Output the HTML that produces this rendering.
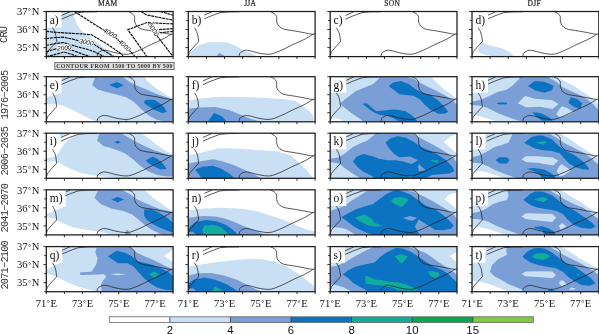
<!DOCTYPE html>
<html lang="en"><head><meta charset="utf-8"><title>Seasonal maps</title>
<style>html,body{margin:0;padding:0;background:#fff;}svg{display:block;}.se{font-family:"Liberation Serif",serif;}.sa{font-family:"Liberation Sans",sans-serif;}.mo{font-family:"Liberation Mono",monospace;}</style></head><body>
<svg width="599" height="334" viewBox="0 0 599 334">
<rect width="599" height="334" fill="#fff"/>
<g opacity="0.999">
<defs>
<clipPath id="cp"><rect x="0" y="0" width="126.8" height="45.1"/></clipPath>
<g id="bnd" fill="none" stroke="#222" stroke-width="0.75" stroke-linejoin="round" stroke-linecap="round"><polyline points="15.0,4.1 23.3,0.4"/><polyline points="15.0,7.8 22.8,4.4 31.8,1.1 39.8,0.4 50.3,0.3"/><polyline points="5.8,15.0 6.6,16.9 8.4,19.9 9.6,24.1 10.4,30.1 5.4,35.4 1.2,40.2 0.1,43.8"/><path d="M82.3,0.2C82.9,0.5 84.8,1.2 85.8,2.0C86.8,2.8 87.9,3.8 88.3,5.0C88.7,6.2 88.0,8.1 88.3,9.5C88.5,10.9 88.9,12.2 89.8,13.5C90.7,14.8 92.1,16.2 93.8,17.0C95.5,17.8 97.5,18.1 99.8,18.5C102.1,18.9 105.1,19.2 107.8,19.7C110.5,20.1 113.1,20.7 115.8,21.2C118.5,21.7 122.0,22.5 123.8,22.7C125.6,22.9 126.3,22.3 126.8,22.2"/><path d="M124.8,22.7C123.3,23.6 119.1,26.3 115.8,28.0C112.5,29.7 108.0,31.5 104.8,33.0C101.6,34.5 99.1,35.9 96.8,37.0C94.5,38.1 92.8,38.9 90.8,39.7C88.8,40.5 86.6,41.5 84.8,42.0C83.0,42.5 81.8,42.8 79.8,42.8C77.8,42.8 75.0,42.4 72.8,42.0C70.6,41.6 68.6,41.2 66.8,40.7C65.0,40.2 63.4,39.6 61.8,39.3C60.2,39.0 58.6,38.6 57.3,38.7C56.0,38.8 54.8,39.5 53.8,40.0C52.8,40.5 51.8,41.1 51.3,42.0C50.8,42.9 51.0,44.6 51.0,45.1"/></g>
<g id="frm" fill="none" stroke="#1a1a1a" stroke-width="1.25"><rect x="0" y="0" width="126.8" height="45.1"/><path d="M-2.9,0.00h2.9M-2.1,9.02h2.1M-2.9,18.04h2.9M-2.1,27.06h2.1M-2.9,36.08h2.9M-2.1,45.10h2.1M0.00,45.1v2.4M18.11,45.1v2.4M36.23,45.1v2.4M54.34,45.1v2.4M72.46,45.1v2.4M90.57,45.1v2.4M108.69,45.1v2.4M126.80,45.1v2.4" stroke-width="0.9"/></g>
</defs>
<text class="se" x="107.8" y="5.8" font-size="7.5" letter-spacing="0.25" stroke="#222" stroke-width="0.2" text-anchor="middle" fill="#222">MAM</text>
<text class="se" x="250.2" y="5.8" font-size="7.5" letter-spacing="0.25" stroke="#222" stroke-width="0.2" text-anchor="middle" fill="#222">JJA</text>
<text class="se" x="392.2" y="5.8" font-size="7.5" letter-spacing="0.25" stroke="#222" stroke-width="0.2" text-anchor="middle" fill="#222">SON</text>
<text class="se" x="534.2" y="5.8" font-size="7.5" letter-spacing="0.25" stroke="#222" stroke-width="0.2" text-anchor="middle" fill="#222">DJF</text>
<text class="mo" transform="translate(6.9,34.5) rotate(-90)" x="-8.5" font-size="10.3" textLength="17.0" lengthAdjust="spacing" fill="#3a3a3a">CRU</text>
<text class="mo" transform="translate(7.8,94.6) rotate(-90)" x="-24.7" font-size="10.3" textLength="49.4" lengthAdjust="spacing" fill="#3a3a3a">1976−2005</text>
<text class="mo" transform="translate(7.8,150.8) rotate(-90)" x="-24.7" font-size="10.3" textLength="49.4" lengthAdjust="spacing" fill="#3a3a3a">2006−2035</text>
<text class="mo" transform="translate(7.8,207.8) rotate(-90)" x="-24.7" font-size="10.3" textLength="49.4" lengthAdjust="spacing" fill="#3a3a3a">2041−2070</text>
<text class="mo" transform="translate(7.8,264.9) rotate(-90)" x="-24.7" font-size="10.3" textLength="49.4" lengthAdjust="spacing" fill="#3a3a3a">2071−2100</text>
<g transform="translate(46.3,11.5)"><g clip-path="url(#cp)"><polygon fill="#c9dff4" points="0.0,0.0 26.5,0.0 28.0,5.9 31.1,13.7 35.8,19.9 42.8,24.6 50.6,30.8 58.4,37.0 64.6,41.7 70.8,45.1 0.0,45.1"/><use href="#bnd"/><g fill="none" stroke="#111" stroke-width="1.15" stroke-dasharray="3 0.7"><polyline points="0.0,19.9 10.2,20.9 26.4,21.9 36.0,22.4 45.6,23.3 47.7,24.7 61.7,33.1 74.1,41.7 77.2,45.1"/><polyline points="0.0,27.1 7.3,26.2 16.9,25.7 26.4,27.6 33.1,29.5 48.2,33.1 56.8,38.6 64.6,43.3 67.7,45.1"/><polyline points="0.0,33.8 7.3,32.4 16.9,31.0 21.6,32.4 31.2,35.3 40.8,37.7 47.7,40.1 57.7,45.1"/><polyline points="0.0,40.5 3.4,39.1 10.2,37.2 25.5,38.6 36.0,42.5 43.7,45.1"/><polyline points="0.0,45.1 7.3,43.4 17.8,40.5 25.5,42.9 31.2,45.1"/><polyline points="28.0,0.0 55.9,17.7 63.7,21.6 72.7,29.1 78.3,33.8 83.7,39.6 88.9,45.1"/><polyline points="94.9,0.0 99.7,3.3 109.3,5.2 118.9,7.1 126.8,8.6"/><polyline points="114.1,0.0 126.8,3.8"/><polyline points="126.8,12.4 106.4,11.4 100.7,11.0 81.5,18.2 100.6,45.1"/><polyline points="102.5,11.5 111.7,25.6 126.8,45.1"/><polyline points="126.8,17.2 111.2,18.2"/><polyline points="126.8,19.9 113.5,21.3"/></g><g transform="translate(18.0,36.2) rotate(-4)"><rect x="-7.2" y="-2.9" width="14.4" height="5.8" fill="#fff"/><text class="sa" x="0" y="2.3" font-size="6.4" font-style="italic" text-anchor="middle" fill="#000">2000</text></g><g transform="translate(40.2,30.6) rotate(12)"><rect x="-7.2" y="-2.9" width="14.4" height="5.8" fill="#fff"/><text class="sa" x="0" y="2.3" font-size="6.4" font-style="italic" text-anchor="middle" fill="#000">3000</text></g><g transform="translate(63.7,21.6) rotate(30)"><rect x="-7.2" y="-2.9" width="14.4" height="5.8" fill="#fff"/><text class="sa" x="0" y="2.3" font-size="6.4" font-style="italic" text-anchor="middle" fill="#000">4000</text></g><g transform="translate(78.3,33.8) rotate(45)"><rect x="-7.2" y="-2.9" width="14.4" height="5.8" fill="#fff"/><text class="sa" x="0" y="2.3" font-size="6.4" font-style="italic" text-anchor="middle" fill="#000">4000</text></g><g transform="translate(107.4,17.9) rotate(58)"><rect x="-7.2" y="-2.9" width="14.4" height="5.8" fill="#fff"/><text class="sa" x="0" y="2.3" font-size="6.4" font-style="italic" text-anchor="middle" fill="#000">5000</text></g><rect x="0" y="0" width="15.3" height="16.1" fill="#fff"/></g><text class="se" x="3.4" y="12.2" font-size="11.5" fill="#111">a)</text><use href="#frm"/></g>
<text class="se" x="39.4" y="15.2" font-size="10.6" text-anchor="end" fill="#111">37<tspan font-size="7.6" dx="0.5" dy="-0.8">°</tspan><tspan dx="0.6" dy="0.8">N</tspan></text>
<text class="se" x="39.4" y="33.2" font-size="10.6" text-anchor="end" fill="#111">36<tspan font-size="7.6" dx="0.5" dy="-0.8">°</tspan><tspan dx="0.6" dy="0.8">N</tspan></text>
<text class="se" x="39.4" y="51.3" font-size="10.6" text-anchor="end" fill="#111">35<tspan font-size="7.6" dx="0.5" dy="-0.8">°</tspan><tspan dx="0.6" dy="0.8">N</tspan></text>
<g transform="translate(188.3,11.5)"><g clip-path="url(#cp)"><polygon fill="#c9dff4" points="0.0,45.2 3.0,38.7 11.7,33.3 20.4,30.7 38.8,30.7 47.5,34.4 55.1,38.7 63.8,42.0 68.1,45.2"/><polygon fill="#7a9fd6" points="28.0,45.2 30.8,41.6 37.8,45.2"/><use href="#bnd"/><rect x="0" y="0" width="16.0" height="16.1" fill="#fff"/></g><text class="se" x="3.4" y="12.2" font-size="11.5" fill="#111">b)</text><use href="#frm"/></g>
<g transform="translate(330.2,11.5)"><g clip-path="url(#cp)"><use href="#bnd"/><rect x="0" y="0" width="15.3" height="16.1" fill="#fff"/></g><text class="se" x="3.4" y="12.2" font-size="11.5" fill="#111">c)</text><use href="#frm"/></g>
<g transform="translate(472.0,11.5)"><g clip-path="url(#cp)"><polygon fill="#c9dff4" points="7.3,41.3 6.2,37.1 10.5,30.7 17.9,33.9 30.8,37.1 38.2,41.3 42.5,45.2 20.0,44.5 13.7,43.5"/><polygon fill="#c9dff4" points="0.0,19.0 1.2,22.0 0.0,25.0"/><use href="#bnd"/><rect x="0" y="0" width="16.0" height="16.1" fill="#fff"/></g><text class="se" x="3.4" y="12.2" font-size="11.5" fill="#111">d)</text><use href="#frm"/></g>
<g transform="translate(46.3,76.7)"><g clip-path="url(#cp)"><polygon fill="#c9dff4" points="0.0,20.6 5.5,19.1 14.8,16.4 14.8,0.0 97.8,0.0 101.7,5.1 109.5,11.3 118.8,17.5 126.8,22.2 126.8,45.1 50.6,45.1 45.9,43.2 38.1,39.3 28.8,34.6 17.9,29.2 10.1,27.6 0.0,27.9"/><polygon fill="#7a9fd6" points="49.0,0.0 45.9,8.2 51.4,12.8 59.9,15.2 69.0,17.5 79.9,20.6 87.7,25.3 95.5,33.1 103.2,39.3 111.0,43.2 118.8,44.5 126.8,44.5 126.8,23.0 120.4,20.6 111.0,17.5 100.1,12.8 90.8,9.0 83.0,5.1 76.0,0.0"/><polygon fill="#7a9fd6" points="79.9,43.2 78.4,45.1 82.3,45.1"/><polygon fill="#0b73c2" points="62.8,8.2 70.6,5.4 77.6,8.5 70.6,11.6"/><polygon fill="#0b73c2" points="97.8,24.5 100.1,23.0 107.9,23.0 114.1,26.8 118.0,30.7 120.4,35.4 115.7,36.2 107.9,33.1 101.7,29.2 98.3,26.8"/><use href="#bnd"/><rect x="0" y="0" width="15.3" height="16.1" fill="#fff"/></g><text class="se" x="3.4" y="12.2" font-size="11.5" fill="#111">e)</text><use href="#frm"/></g>
<text class="se" x="39.4" y="80.4" font-size="10.6" text-anchor="end" fill="#111">37<tspan font-size="7.6" dx="0.5" dy="-0.8">°</tspan><tspan dx="0.6" dy="0.8">N</tspan></text>
<text class="se" x="39.4" y="98.4" font-size="10.6" text-anchor="end" fill="#111">36<tspan font-size="7.6" dx="0.5" dy="-0.8">°</tspan><tspan dx="0.6" dy="0.8">N</tspan></text>
<text class="se" x="39.4" y="116.5" font-size="10.6" text-anchor="end" fill="#111">35<tspan font-size="7.6" dx="0.5" dy="-0.8">°</tspan><tspan dx="0.6" dy="0.8">N</tspan></text>
<g transform="translate(188.3,76.7)"><g clip-path="url(#cp)"><polygon fill="#c9dff4" points="0.0,23.9 11.7,21.7 31.3,20.0 53.0,20.4 74.7,21.1 96.4,22.6 107.2,24.3 113.7,28.7 120.2,34.1 124.6,38.5 125.7,45.1 0.0,45.1"/><polygon fill="#7a9fd6" points="0.0,31.9 11.7,30.9 26.9,30.4 39.9,33.0 50.8,37.4 61.6,41.7 72.5,45.1 0.0,45.1"/><polygon fill="#0b73c2" points="19.3,45.1 25.8,36.3 33.4,39.5 38.8,45.1"/><use href="#bnd"/><rect x="0" y="0" width="14.1" height="16.1" fill="#fff"/></g><text class="se" x="3.4" y="12.2" font-size="11.5" fill="#111">f)</text><use href="#frm"/></g>
<g transform="translate(330.2,76.7)"><g clip-path="url(#cp)"><polygon fill="#c9dff4" points="0.0,0.0 101.0,0.0 106.5,5.8 114.2,12.8 122.0,18.3 126.8,22.2 126.8,45.1 0.0,45.1"/><polygon fill="#ffffff" points="0.0,42.0 7.0,41.6 11.8,43.2 10.5,45.1 0.0,45.1"/><polygon fill="#7a9fd6" points="9.5,27.1 16.5,21.4 25.8,14.4 35.1,10.5 42.9,7.4 50.7,0.0 75.4,0.0 83.1,1.9 90.9,6.6 98.7,10.5 106.5,14.4 114.2,18.3 122.0,23.0 126.8,28.4 126.8,45.1 33.6,45.1 28.9,41.6 21.1,36.2 14.9,31.5"/><polygon fill="#0b73c2" points="58.5,9.3 62.9,5.8 70.7,4.3 78.5,7.4 84.7,12.1 92.5,16.0 100.2,18.3 108.0,23.7 114.2,30.0 118.1,35.4 114.2,37.0 108.0,37.0 100.2,33.1 94.0,27.6 89.3,22.2 83.1,19.1 75.4,18.3 69.1,17.5 62.9,12.8"/><polygon fill="#0b73c2" points="32.0,27.0 36.7,26.5 41.4,30.7 46.0,34.6 53.8,33.8 63.1,32.7 67.6,33.1 75.4,34.6 81.6,38.5 86.2,43.2 87.0,45.1 70.0,45.1 67.8,44.0 63.1,41.6 56.9,39.3 49.1,38.0 42.9,35.4 36.7,30.7"/><use href="#bnd"/><rect x="0" y="0" width="16.0" height="16.1" fill="#fff"/></g><text class="se" x="3.4" y="12.2" font-size="11.5" fill="#111">g)</text><use href="#frm"/></g>
<g transform="translate(472.0,76.7)"><g clip-path="url(#cp)"><polygon fill="#c9dff4" points="0.0,0.0 83.9,0.0 92.5,4.3 101.8,9.0 111.1,15.2 118.9,20.6 126.8,27.6 126.8,45.1 0.0,45.1"/><polygon fill="#ffffff" points="0.0,38.0 7.0,39.3 14.8,41.6 22.6,44.0 25.7,45.1 0.0,45.1"/><polygon fill="#7a9fd6" points="0.0,25.0 8.6,23.0 17.9,19.1 25.7,15.2 35.0,12.8 41.2,8.2 45.9,3.5 49.0,0.0 75.4,0.0 83.1,4.3 90.9,10.5 98.7,14.4 108.0,18.3 115.8,23.0 122.0,28.4 126.8,33.8 126.8,45.1 50.6,45.1 44.4,43.2 35.0,40.1 25.7,36.2 17.9,32.3 10.1,29.2 0.0,28.4"/><polygon fill="#c9dff4" points="45.8,26.6 53.0,19.4 63.2,22.0 80.5,23.5 86.6,27.4 80.5,32.4 68.2,30.1 54.0,30.6"/><polygon fill="#c9dff4" points="89.8,29.8 94.0,30.9 101.8,35.4 95.6,38.5 87.8,40.8 84.3,37.7 86.6,33.3"/><polygon fill="#0b73c2" points="24.9,26.5 28.8,25.6 35.0,26.1 35.0,27.6 28.8,27.9 24.9,27.2"/><polygon fill="#0b73c2" points="56.0,9.3 62.9,4.3 72.3,5.1 81.6,9.0 80.0,13.6 72.3,16.0 62.9,13.6"/><polygon fill="#0b73c2" points="98.7,20.6 104.9,22.2 110.4,26.8 108.0,32.3 101.8,30.0 96.4,26.1"/><polygon fill="#0b73c2" points="60.1,35.5 68.6,36.2 76.6,40.4 81.0,44.0 70.0,44.0 65.5,40.8 61.4,37.0"/><use href="#bnd"/><rect x="0" y="0" width="16.0" height="16.1" fill="#fff"/></g><text class="se" x="3.4" y="12.2" font-size="11.5" fill="#111">h)</text><use href="#frm"/></g>
<g transform="translate(46.3,133.2)"><g clip-path="url(#cp)"><polygon fill="#c9dff4" points="10.0,0.0 10.0,5.5 13.2,4.1 17.7,2.3 22.2,0.0"/><polygon fill="#c9dff4" points="0.0,24.7 7.0,24.0 10.0,22.9 13.2,18.0 16.3,13.5 19.0,9.5 23.0,5.9 29.3,2.3 35.6,0.0 95.5,0.0 101.7,4.5 109.5,10.7 117.2,16.2 126.8,21.6 126.8,45.1 70.3,45.1 63.8,44.0 48.6,42.3 35.6,40.1 26.9,36.9 18.2,32.6 9.5,28.2 0.0,28.2"/><polygon fill="#7a9fd6" points="53.0,0.0 50.8,7.6 57.3,13.0 62.0,14.0 69.0,16.2 78.4,20.1 86.1,25.5 93.9,32.5 101.7,38.0 111.0,41.8 120.4,43.4 126.8,43.4 126.8,23.2 117.2,20.1 107.9,17.0 98.6,13.1 89.2,8.4 81.5,3.7 74.5,0.0"/><polygon fill="#0b73c2" points="68.1,9.1 71.4,7.6 74.7,9.1 71.4,10.6"/><polygon fill="#0b73c2" points="99.4,27.1 106.4,23.2 111.0,25.5 116.5,30.2 120.4,35.6 114.1,36.4 107.9,33.3 102.5,30.2"/><use href="#bnd"/><rect x="0" y="0" width="13.4" height="16.1" fill="#fff"/></g><text class="se" x="3.4" y="12.2" font-size="11.5" fill="#111">i)</text><use href="#frm"/></g>
<text class="se" x="39.4" y="136.9" font-size="10.6" text-anchor="end" fill="#111">37<tspan font-size="7.6" dx="0.5" dy="-0.8">°</tspan><tspan dx="0.6" dy="0.8">N</tspan></text>
<text class="se" x="39.4" y="154.9" font-size="10.6" text-anchor="end" fill="#111">36<tspan font-size="7.6" dx="0.5" dy="-0.8">°</tspan><tspan dx="0.6" dy="0.8">N</tspan></text>
<text class="se" x="39.4" y="173.0" font-size="10.6" text-anchor="end" fill="#111">35<tspan font-size="7.6" dx="0.5" dy="-0.8">°</tspan><tspan dx="0.6" dy="0.8">N</tspan></text>
<g transform="translate(188.3,133.2)"><g clip-path="url(#cp)"><polygon fill="#c9dff4" points="0.0,21.7 10.7,20.1 21.6,17.3 30.3,15.1 41.1,15.1 62.8,16.2 88.8,18.4 101.9,21.7 110.5,29.3 119.2,37.9 124.7,45.1 0.0,45.1"/><polygon fill="#7a9fd6" points="0.0,30.3 10.7,28.2 24.8,26.0 34.6,28.2 45.4,31.9 56.3,36.8 67.1,41.8 72.6,45.1 0.0,45.1"/><polygon fill="#0b73c2" points="6.8,36.2 14.0,33.6 24.8,32.5 33.5,35.8 42.2,41.2 46.5,45.1 13.3,45.1"/><use href="#bnd"/><rect x="0" y="0" width="13.4" height="16.1" fill="#fff"/></g><text class="se" x="3.4" y="12.2" font-size="11.5" fill="#111">j)</text><use href="#frm"/></g>
<g transform="translate(330.2,133.2)"><g clip-path="url(#cp)"><polygon fill="#c9dff4" points="0.0,0.0 126.8,0.0 126.8,45.1 0.0,45.1"/><polygon fill="#ffffff" points="113.5,8.9 120.5,3.0 126.8,1.1 126.8,20.0 123.6,17.7 118.9,13.8"/><polygon fill="#7a9fd6" points="0.0,25.5 8.7,24.0 14.9,20.1 22.7,13.8 30.5,10.0 36.7,7.6 41.4,3.7 46.0,0.0 76.9,0.0 83.1,1.4 90.9,5.3 100.2,10.0 109.6,15.4 117.3,20.1 123.6,24.7 126.8,30.2 126.8,45.1 30.5,45.1 27.4,43.4 21.1,39.5 13.4,34.1 8.7,30.2 0.0,28.9"/><polygon fill="#0b73c2" points="55.3,9.6 60.0,5.3 67.6,3.0 75.4,4.5 83.1,8.4 90.9,13.8 98.7,17.0 108.0,21.6 115.8,27.1 122.0,33.3 124.3,37.9 118.9,40.3 111.1,41.1 101.8,41.8 97.1,44.2 95.6,45.1 44.5,45.1 41.4,42.6 33.6,38.7 27.4,34.1 22.7,28.2 26.6,23.2 33.6,20.8 42.9,23.2 49.1,25.5 56.9,27.1 66.0,27.1 73.8,28.6 81.6,30.9 87.8,27.1 80.0,23.2 69.1,24.0 63.1,20.1 59.2,15.4"/><polygon fill="#7a9fd6" points="88.6,30.9 95.6,37.0 88.6,38.0 87.8,34.0"/><polygon fill="#10ad9f" points="99.5,27.1 108.8,27.1 106.5,29.7"/><polygon fill="#10ad9f" points="76.9,43.4 82.4,42.6 80.0,45.1"/><polygon fill="#10ad9f" points="70.0,9.0 71.2,8.6 71.4,9.6 70.2,9.9"/><use href="#bnd"/><rect x="0" y="0" width="16.0" height="16.1" fill="#fff"/></g><text class="se" x="3.4" y="12.2" font-size="11.5" fill="#111">k)</text><use href="#frm"/></g>
<g transform="translate(472.0,133.2)"><g clip-path="url(#cp)"><polygon fill="#c9dff4" points="0.0,0.0 87.8,0.0 95.6,4.5 104.9,10.7 114.2,17.0 122.0,22.4 126.8,26.3 126.8,45.1 0.0,45.1"/><polygon fill="#ffffff" points="0.0,37.2 8.6,37.9 16.4,39.5 25.7,42.6 31.9,45.1 0.0,45.1"/><polygon fill="#7a9fd6" points="0.0,24.0 7.0,22.4 14.8,18.5 22.6,13.8 30.4,11.5 36.6,9.2 38.9,4.5 40.5,0.0 76.9,0.0 84.7,4.5 92.5,10.0 101.8,14.6 111.1,19.3 118.9,24.7 126.8,31.7 126.8,45.1 45.9,45.1 42.8,44.2 33.5,41.1 24.1,37.2 16.4,33.3 8.6,30.2 0.0,29.4"/><polygon fill="#c9dff4" points="49.6,26.3 53.9,23.1 66.0,23.0 80.4,24.2 86.4,27.3 81.4,32.2 72.3,30.8 66.0,29.6 54.0,28.9"/><polygon fill="#c9dff4" points="89.4,30.9 95.6,34.8 98.7,37.2 92.5,41.8 87.8,43.4 84.7,37.9 87.0,33.3"/><polygon fill="#0b73c2" points="23.4,27.1 27.2,24.0 35.0,24.0 37.4,27.1 35.0,30.2 28.0,30.2"/><polygon fill="#0b73c2" points="52.1,9.5 59.9,3.7 66.0,2.3 70.7,2.2 80.0,6.1 86.2,12.3 94.0,17.7 101.8,21.6 109.6,27.1 115.8,33.3 117.4,36.4 111.1,36.4 103.4,34.1 97.1,30.2 92.5,25.5 87.8,20.1 80.0,17.7 70.7,17.0 62.9,15.4 59.9,13.8"/><polygon fill="#0b73c2" points="54.5,35.6 61.5,34.8 72.3,36.4 78.5,39.5 83.1,43.4 83.9,45.1 70.0,45.1 67.7,41.5 61.5,37.9"/><polygon fill="#10ad9f" points="63.7,9.2 72.3,7.9 74.6,8.9 71.5,11.5"/><use href="#bnd"/><rect x="0" y="0" width="13.4" height="16.1" fill="#fff"/></g><text class="se" x="3.4" y="12.2" font-size="11.5" fill="#111">l)</text><use href="#frm"/></g>
<g transform="translate(46.3,189.8)"><g clip-path="url(#cp)"><polygon fill="#c9dff4" points="0.0,24.4 7.4,21.2 19.3,16.8 19.3,0.0 97.8,0.0 102.0,3.4 106.4,7.8 114.1,13.2 121.9,18.7 126.8,21.8 126.8,45.1 68.1,45.1 61.6,44.0 50.8,41.8 37.8,39.6 26.9,37.4 18.2,34.2 9.5,29.8 0.0,26.6"/><polygon fill="#7a9fd6" points="51.9,0.0 48.2,8.1 55.1,14.6 66.0,19.0 76.8,21.2 85.5,24.4 92.0,29.8 98.5,35.3 105.0,39.6 113.7,44.0 116.5,45.1 126.8,45.1 126.8,22.8 121.9,21.0 114.1,19.5 106.4,16.4 97.0,12.5 89.2,8.6 83.0,4.0 75.3,0.0"/><polygon fill="#7a9fd6" points="77.9,45.1 80.7,39.6 85.5,45.1"/><polygon fill="#0b73c2" points="64.9,9.7 71.4,7.1 77.9,9.7 71.4,12.5"/><polygon fill="#0b73c2" points="97.8,19.5 104.8,19.5 112.6,22.6 118.8,26.5 125.0,31.2 126.8,33.5 126.8,42.8 121.9,41.3 114.1,38.2 106.4,34.3 100.1,29.6 97.8,25.7"/><use href="#bnd"/><rect x="0" y="0" width="19.2" height="16.1" fill="#fff"/></g><text class="se" x="3.4" y="12.2" font-size="11.5" fill="#111">m)</text><use href="#frm"/></g>
<text class="se" x="39.4" y="193.5" font-size="10.6" text-anchor="end" fill="#111">37<tspan font-size="7.6" dx="0.5" dy="-0.8">°</tspan><tspan dx="0.6" dy="0.8">N</tspan></text>
<text class="se" x="39.4" y="211.5" font-size="10.6" text-anchor="end" fill="#111">36<tspan font-size="7.6" dx="0.5" dy="-0.8">°</tspan><tspan dx="0.6" dy="0.8">N</tspan></text>
<text class="se" x="39.4" y="229.6" font-size="10.6" text-anchor="end" fill="#111">35<tspan font-size="7.6" dx="0.5" dy="-0.8">°</tspan><tspan dx="0.6" dy="0.8">N</tspan></text>
<g transform="translate(188.3,189.8)"><g clip-path="url(#cp)"><polygon fill="#c9dff4" points="0.0,20.7 11.7,19.0 33.4,17.9 53.0,19.0 68.1,21.2 81.2,25.5 94.2,29.8 107.2,35.3 118.1,39.6 126.8,41.8 126.8,45.1 0.0,45.1"/><polygon fill="#7a9fd6" points="0.0,28.2 7.0,27.0 16.4,26.1 27.3,26.8 36.6,28.7 46.0,32.3 56.5,36.8 67.5,41.2 77.0,45.1 0.0,45.1"/><polygon fill="#0b73c2" points="0.0,40.7 2.0,36.4 7.4,32.0 18.2,30.3 29.1,31.6 37.8,35.3 45.4,40.7 49.7,45.1 8.0,45.1 5.0,42.0 0.0,42.0"/><polygon fill="#10ad9f" points="15.2,45.1 13.9,39.6 16.1,36.2 24.7,35.0 32.0,37.0 37.6,41.4 40.0,45.1"/><use href="#bnd"/><rect x="0" y="0" width="16.0" height="16.1" fill="#fff"/></g><text class="se" x="3.4" y="12.2" font-size="11.5" fill="#111">n)</text><use href="#frm"/></g>
<g transform="translate(330.2,189.8)"><g clip-path="url(#cp)"><polygon fill="#c9dff4" points="0.0,0.0 126.8,0.0 126.8,45.1 0.0,45.1"/><polygon fill="#ffffff" points="114.2,9.7 118.9,4.8 126.8,2.4 126.8,19.5 120.5,14.1"/><polygon fill="#7a9fd6" points="0.0,21.1 7.1,18.8 14.9,15.6 21.1,11.0 27.4,7.1 33.6,3.2 38.2,0.0 75.4,0.0 84.7,2.4 92.5,6.3 101.8,11.0 111.1,16.4 118.9,21.1 124.3,25.8 126.8,29.6 126.8,45.1 25.0,45.1 21.1,42.1 14.9,39.0 7.1,37.4 0.0,38.2"/><polygon fill="#0b73c2" points="11.0,27.5 18.0,23.4 25.8,19.5 35.1,16.4 42.9,14.1 49.1,9.4 55.3,4.8 63.1,0.9 66.2,0.0 72.3,1.6 80.0,4.8 87.8,10.2 95.6,15.6 104.9,19.5 112.7,25.0 118.9,30.4 123.6,35.9 120.5,39.0 112.7,40.5 104.9,40.1 88.6,29.6 84.7,36.6 87.8,42.1 89.3,45.1 42.9,45.1 36.7,42.9 28.9,39.7 22.7,35.9 16.5,31.2"/><polygon fill="#7a9fd6" points="72.3,28.1 80.0,26.1 87.0,28.1 81.6,31.2"/><polygon fill="#10ad9f" points="24.6,27.6 34.6,24.6 40.8,28.5 44.2,33.0 52.6,36.0 45.0,36.9 38.2,35.6 30.0,31.6"/><polygon fill="#10ad9f" points="60.8,10.2 64.7,7.9 69.1,7.1 75.4,7.9 78.5,10.2 71.5,17.2 66.0,14.9 63.1,13.3"/><use href="#bnd"/><rect x="0" y="0" width="16.0" height="16.1" fill="#fff"/></g><text class="se" x="3.4" y="12.2" font-size="11.5" fill="#111">o)</text><use href="#frm"/></g>
<g transform="translate(472.0,189.8)"><g clip-path="url(#cp)"><polygon fill="#c9dff4" points="0.0,0.0 87.8,0.0 97.1,5.5 106.5,11.0 115.8,17.2 123.6,21.9 126.8,23.4 126.8,45.1 0.0,45.1"/><polygon fill="#ffffff" points="0.0,36.6 8.6,37.4 17.9,39.7 27.2,42.9 33.5,45.1 0.0,45.1"/><polygon fill="#7a9fd6" points="0.0,23.4 7.0,21.9 13.3,19.5 21.0,14.1 28.8,11.8 35.0,10.2 36.6,5.5 35.0,0.0 76.9,0.0 84.7,4.8 92.5,9.4 101.8,14.1 111.1,18.0 118.9,23.4 126.8,29.6 126.8,45.1 49.0,45.1 42.8,42.9 33.5,39.7 24.1,35.9 16.4,32.0 8.6,29.6 0.0,28.9"/><polygon fill="#c9dff4" points="49.4,26.7 53.9,23.4 66.0,23.6 80.2,24.1 84.3,27.8 80.2,32.2 66.0,30.6 53.9,29.3"/><polygon fill="#c9dff4" points="86.7,36.5 90.0,33.2 94.4,36.5 88.9,39.9"/><polygon fill="#0b73c2" points="51.4,9.9 58.4,4.0 63.0,1.6 70.7,1.6 80.0,5.5 87.8,11.8 95.6,17.2 103.4,21.1 111.1,26.5 118.9,32.0 123.6,36.6 118.9,39.0 109.6,38.2 101.8,35.1 95.6,29.6 90.9,24.2 84.7,21.1 75.4,19.5 66.0,18.0 60.0,16.0 56.8,14.1"/><polygon fill="#0b73c2" points="61.6,37.1 70.3,36.5 76.9,38.6 82.4,41.9 83.5,45.1 72.5,45.1 70.3,40.8 64.6,39.0"/><polygon fill="#10ad9f" points="61.8,9.6 70.7,7.1 76.1,9.4 71.5,12.5"/><use href="#bnd"/><rect x="0" y="0" width="16.0" height="16.1" fill="#fff"/></g><text class="se" x="3.4" y="12.2" font-size="11.5" fill="#111">p)</text><use href="#frm"/></g>
<g transform="translate(46.3,246.6)"><g clip-path="url(#cp)"><polygon fill="#c9dff4" points="0.0,23.4 7.4,19.1 15.0,15.8 15.0,0.0 126.8,0.0 126.8,45.1 50.8,45.1 42.1,43.0 31.3,39.7 20.4,35.4 9.5,29.9 0.0,26.7"/><polygon fill="#ffffff" points="118.0,9.5 126.8,2.8 126.8,16.0"/><polygon fill="#7a9fd6" points="50.6,0.0 49.0,5.8 51.4,12.0 49.8,18.2 45.1,25.2 33.5,26.0 34.2,28.3 45.4,28.2 57.7,27.6 60.1,29.9 56.9,33.8 54.6,38.2 55.4,45.1 126.8,45.1 126.8,22.9 121.6,20.6 113.8,16.7 106.0,12.8 98.2,9.7 90.4,5.8 81.9,0.0"/><polygon fill="#c9dff4" points="63.9,27.7 71.7,27.0 80.3,27.7 71.7,28.7"/><polygon fill="#0b73c2" points="61.6,9.7 70.2,4.2 78.0,5.8 85.8,9.7 90.4,14.3 96.7,15.9 106.0,18.2 113.8,21.3 121.6,25.2 126.8,29.3 126.8,44.0 118.5,43.1 110.7,40.8 102.9,36.1 96.7,30.7 92.0,25.2 87.3,19.8 81.1,16.7 71.7,16.7 67.1,13.6"/><polygon fill="#10ad9f" points="102.9,27.6 107.6,24.9 113.0,27.6 107.6,31.0"/><use href="#bnd"/><rect x="0" y="0" width="16.0" height="16.1" fill="#fff"/></g><text class="se" x="3.4" y="12.2" font-size="11.5" fill="#111">q)</text><use href="#frm"/></g>
<text class="se" x="39.4" y="250.3" font-size="10.6" text-anchor="end" fill="#111">37<tspan font-size="7.6" dx="0.5" dy="-0.8">°</tspan><tspan dx="0.6" dy="0.8">N</tspan></text>
<text class="se" x="39.4" y="268.3" font-size="10.6" text-anchor="end" fill="#111">36<tspan font-size="7.6" dx="0.5" dy="-0.8">°</tspan><tspan dx="0.6" dy="0.8">N</tspan></text>
<text class="se" x="39.4" y="286.4" font-size="10.6" text-anchor="end" fill="#111">35<tspan font-size="7.6" dx="0.5" dy="-0.8">°</tspan><tspan dx="0.6" dy="0.8">N</tspan></text>
<g transform="translate(188.3,246.6)"><g clip-path="url(#cp)"><polygon fill="#c9dff4" points="0.0,20.2 11.7,18.0 31.3,15.2 53.0,13.0 70.3,12.2 85.5,14.8 98.5,20.2 109.4,26.7 118.1,33.2 125.7,39.7 126.8,45.1 0.0,45.1"/><polygon fill="#7a9fd6" points="0.0,28.9 9.5,26.7 22.6,26.3 35.6,28.9 48.6,33.2 59.5,38.6 68.1,43.0 73.6,45.1 0.0,45.1"/><polygon fill="#0b73c2" points="0.0,37.5 5.2,33.2 16.1,31.0 26.9,33.2 37.8,37.5 45.4,41.9 49.7,45.1 8.5,45.1 5.2,41.9 0.0,41.9"/><polygon fill="#10ad9f" points="23.2,45.1 26.9,40.2 32.2,43.0 36.0,45.1"/><use href="#bnd"/><rect x="0" y="0" width="14.1" height="16.1" fill="#fff"/></g><text class="se" x="3.4" y="12.2" font-size="11.5" fill="#111">r)</text><use href="#frm"/></g>
<g transform="translate(330.2,246.6)"><g clip-path="url(#cp)"><polygon fill="#c9dff4" points="0.0,0.0 126.8,0.0 126.8,45.1 0.0,45.1"/><polygon fill="#ffffff" points="119.7,9.6 126.8,5.0 126.8,15.9"/><polygon fill="#7a9fd6" points="0.0,20.5 7.1,19.0 14.9,15.9 21.1,12.0 28.9,7.3 36.7,3.4 44.5,0.0 75.4,0.0 86.2,2.6 95.6,6.5 103.4,12.0 111.1,17.4 118.9,22.1 125.1,26.7 126.8,29.9 126.8,45.1 21.1,45.1 19.6,43.9 13.4,40.7 5.6,38.4 0.0,37.6"/><polygon fill="#0b73c2" points="12.6,27.9 18.0,23.6 25.8,19.8 36.7,17.4 44.5,15.9 49.1,11.2 55.3,6.5 63.1,2.6 66.0,1.1 72.3,1.9 80.0,5.0 87.8,9.6 95.6,15.1 103.4,19.8 111.1,22.9 117.4,26.7 122.0,31.4 126.8,36.0 126.8,45.1 38.2,45.1 35.1,43.1 28.9,40.0 22.7,36.1 18.0,31.4"/><polygon fill="#10ad9f" points="35.1,29.1 38.2,29.9 44.5,33.0 52.2,33.7 60.0,35.3 67.6,35.6 75.4,37.6 82.6,40.7 88.0,43.3 82.6,44.1 67.8,43.9 61.6,40.7 52.2,39.2 42.9,38.1 35.1,36.9"/><polygon fill="#10ad9f" points="64.5,9.6 70.7,7.6 77.7,9.6 71.5,17.4"/><polygon fill="#10ad9f" points="97.9,25.2 101.8,24.4 108.0,26.0 109.6,28.3 105.7,31.4 100.2,29.4"/><use href="#bnd"/><rect x="0" y="0" width="14.7" height="16.1" fill="#fff"/></g><text class="se" x="3.4" y="12.2" font-size="11.5" fill="#111">s)</text><use href="#frm"/></g>
<g transform="translate(472.0,246.6)"><g clip-path="url(#cp)"><polygon fill="#c9dff4" points="0.0,0.0 89.4,0.0 98.7,5.8 108.0,12.0 117.4,17.4 126.8,22.1 126.8,45.1 0.0,45.1"/><polygon fill="#ffffff" points="0.0,34.5 10.1,35.3 17.9,37.6 25.7,40.7 33.5,43.9 36.6,45.1 0.0,45.1"/><polygon fill="#7a9fd6" points="35.0,0.0 34.2,4.2 35.0,8.1 25.7,12.8 20.2,18.2 17.9,25.2 22.6,29.9 28.8,33.0 36.6,37.6 44.4,40.7 50.6,43.1 53.7,45.1 126.8,45.1 126.8,28.3 118.9,22.9 111.1,18.2 101.8,13.5 92.5,8.9 84.7,4.2 76.9,0.0"/><polygon fill="#c9dff4" points="49.6,27.5 53.7,24.9 66.0,24.7 80.2,25.0 84.1,28.3 80.2,31.6 66.0,30.4 53.7,29.7"/><polygon fill="#c9dff4" points="87.8,34.5 90.9,33.7 94.8,37.6 90.1,40.0 87.0,37.2"/><polygon fill="#c9dff4" points="96.6,43.1 99.5,41.0 103.4,42.0 102.4,43.1"/><polygon fill="#0b73c2" points="50.6,9.9 55.2,5.0 61.5,1.9 66.0,1.2 72.3,1.9 80.0,5.8 87.8,12.0 95.6,17.4 103.4,20.5 111.1,26.0 118.9,31.4 123.6,36.9 117.4,39.2 109.6,38.4 101.8,34.5 95.6,29.9 90.9,25.2 83.1,21.3 73.8,19.8 66.0,18.3 58.4,15.9 51.4,11.2"/><polygon fill="#0b73c2" points="76.9,43.1 80.0,42.3 82.4,45.1 75.0,45.1"/><polygon fill="#10ad9f" points="59.9,9.6 64.6,7.0 72.3,6.5 78.5,9.6 72.3,13.2 65.3,12.4 63.0,11.7"/><polygon fill="#10ad9f" points="105.0,27.3 108.0,27.6 107.0,28.8 105.2,28.4"/><use href="#bnd"/><rect x="0" y="0" width="13.4" height="16.1" fill="#fff"/></g><text class="se" x="3.4" y="12.2" font-size="11.5" fill="#111">t)</text><use href="#frm"/></g>
<text class="se" x="46.3" y="306.8" font-size="10.6" text-anchor="middle" fill="#111">71<tspan font-size="7.6" dx="0.5" dy="-0.8">°</tspan><tspan dx="0.6" dy="0.8">E</tspan></text>
<text class="se" x="82.5" y="306.8" font-size="10.6" text-anchor="middle" fill="#111">73<tspan font-size="7.6" dx="0.5" dy="-0.8">°</tspan><tspan dx="0.6" dy="0.8">E</tspan></text>
<text class="se" x="118.8" y="306.8" font-size="10.6" text-anchor="middle" fill="#111">75<tspan font-size="7.6" dx="0.5" dy="-0.8">°</tspan><tspan dx="0.6" dy="0.8">E</tspan></text>
<text class="se" x="155.0" y="306.8" font-size="10.6" text-anchor="middle" fill="#111">77<tspan font-size="7.6" dx="0.5" dy="-0.8">°</tspan><tspan dx="0.6" dy="0.8">E</tspan></text>
<text class="se" x="188.3" y="306.8" font-size="10.6" text-anchor="middle" fill="#111">71<tspan font-size="7.6" dx="0.5" dy="-0.8">°</tspan><tspan dx="0.6" dy="0.8">E</tspan></text>
<text class="se" x="224.5" y="306.8" font-size="10.6" text-anchor="middle" fill="#111">73<tspan font-size="7.6" dx="0.5" dy="-0.8">°</tspan><tspan dx="0.6" dy="0.8">E</tspan></text>
<text class="se" x="260.8" y="306.8" font-size="10.6" text-anchor="middle" fill="#111">75<tspan font-size="7.6" dx="0.5" dy="-0.8">°</tspan><tspan dx="0.6" dy="0.8">E</tspan></text>
<text class="se" x="297.0" y="306.8" font-size="10.6" text-anchor="middle" fill="#111">77<tspan font-size="7.6" dx="0.5" dy="-0.8">°</tspan><tspan dx="0.6" dy="0.8">E</tspan></text>
<text class="se" x="330.2" y="306.8" font-size="10.6" text-anchor="middle" fill="#111">71<tspan font-size="7.6" dx="0.5" dy="-0.8">°</tspan><tspan dx="0.6" dy="0.8">E</tspan></text>
<text class="se" x="366.4" y="306.8" font-size="10.6" text-anchor="middle" fill="#111">73<tspan font-size="7.6" dx="0.5" dy="-0.8">°</tspan><tspan dx="0.6" dy="0.8">E</tspan></text>
<text class="se" x="402.7" y="306.8" font-size="10.6" text-anchor="middle" fill="#111">75<tspan font-size="7.6" dx="0.5" dy="-0.8">°</tspan><tspan dx="0.6" dy="0.8">E</tspan></text>
<text class="se" x="438.9" y="306.8" font-size="10.6" text-anchor="middle" fill="#111">77<tspan font-size="7.6" dx="0.5" dy="-0.8">°</tspan><tspan dx="0.6" dy="0.8">E</tspan></text>
<text class="se" x="472.0" y="306.8" font-size="10.6" text-anchor="middle" fill="#111">71<tspan font-size="7.6" dx="0.5" dy="-0.8">°</tspan><tspan dx="0.6" dy="0.8">E</tspan></text>
<text class="se" x="508.2" y="306.8" font-size="10.6" text-anchor="middle" fill="#111">73<tspan font-size="7.6" dx="0.5" dy="-0.8">°</tspan><tspan dx="0.6" dy="0.8">E</tspan></text>
<text class="se" x="544.5" y="306.8" font-size="10.6" text-anchor="middle" fill="#111">75<tspan font-size="7.6" dx="0.5" dy="-0.8">°</tspan><tspan dx="0.6" dy="0.8">E</tspan></text>
<text class="se" x="580.7" y="306.8" font-size="10.6" text-anchor="middle" fill="#111">77<tspan font-size="7.6" dx="0.5" dy="-0.8">°</tspan><tspan dx="0.6" dy="0.8">E</tspan></text>
<rect x="54.8" y="62.6" width="119.3" height="6.9" fill="#dedede" stroke="#555" stroke-width="0.8"/>
<text class="se" x="56.2" y="68.1" font-size="5.9" font-weight="bold" textLength="116.2" lengthAdjust="spacing" fill="#333">CONTOUR FROM 1500 TO 5000 BY 500</text>
<rect x="109.30" y="316.8" width="60.67" height="5.7" fill="#ffffff"/>
<rect x="169.87" y="316.8" width="60.67" height="5.7" fill="#c9dff4"/>
<rect x="230.44" y="316.8" width="60.67" height="5.7" fill="#7a9fd6"/>
<rect x="291.01" y="316.8" width="60.67" height="5.7" fill="#0b73c2"/>
<rect x="351.59" y="316.8" width="60.67" height="5.7" fill="#10ad9f"/>
<rect x="412.16" y="316.8" width="60.67" height="5.7" fill="#0aa650"/>
<rect x="472.73" y="316.8" width="60.67" height="5.7" fill="#7dcb3f"/>
<path d="M169.87,316.8v5.7M230.44,316.8v5.7M291.01,316.8v5.7M351.59,316.8v5.7M412.16,316.8v5.7M472.73,316.8v5.7" stroke="#333" stroke-width="0.8" fill="none"/>
<rect x="109.3" y="316.8" width="424.0" height="5.7" fill="none" stroke="#666" stroke-width="0.8"/>
<text class="sa" x="169.9" y="334.3" font-size="11.4" text-anchor="middle" fill="#111">2</text>
<text class="sa" x="230.4" y="334.3" font-size="11.4" text-anchor="middle" fill="#111">4</text>
<text class="sa" x="291.0" y="334.3" font-size="11.4" text-anchor="middle" fill="#111">6</text>
<text class="sa" x="351.6" y="334.3" font-size="11.4" text-anchor="middle" fill="#111">8</text>
<text class="sa" x="412.2" y="334.3" font-size="11.4" text-anchor="middle" fill="#111">10</text>
<text class="sa" x="472.7" y="334.3" font-size="11.4" text-anchor="middle" fill="#111">15</text>
</g>
</svg></body></html>
